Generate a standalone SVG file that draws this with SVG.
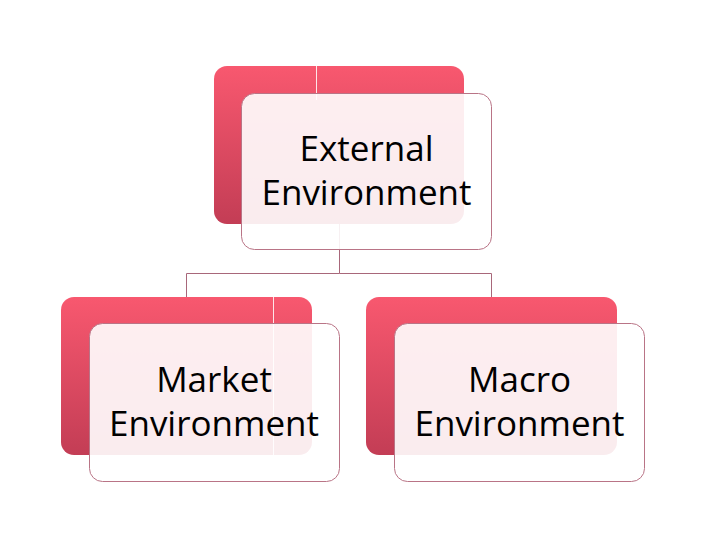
<svg xmlns="http://www.w3.org/2000/svg" width="720" height="540" viewBox="0 0 720 540">
<defs>
<linearGradient id="red" x1="0" y1="0" x2="0" y2="1">
<stop offset="0" stop-color="#f8586f"/>
<stop offset="1" stop-color="#c33d55"/>
</linearGradient>
<style>
.back{fill:url(#red);}
.front{fill:#ffffff;fill-opacity:0.9;stroke:#b97486;stroke-width:1;}
.conn{fill:none;stroke:#a8677a;stroke-width:1;}
.sheen{stroke:#ffffff;stroke-opacity:0.85;stroke-width:1;}
.lbl{font-family:"Open Sans","DejaVu Sans",sans-serif;font-size:35px;fill:#000000;text-anchor:middle;}
</style>
</defs>
<rect width="720" height="540" fill="#ffffff"/>
<g id="back-shapes">
<rect class="back" x="214" y="66" width="250" height="158" rx="13"/>
<rect class="back" x="61" y="297" width="251" height="158" rx="13"/>
<rect class="back" x="366" y="297" width="251" height="158" rx="13"/>
<line class="sheen" x1="316.5" y1="66" x2="316.5" y2="100"/>
<line class="sheen" x1="273.5" y1="297" x2="273.5" y2="455"/>
</g>
<g id="connectors">
<polyline class="conn" points="339.5,224 339.5,273.5 186.5,273.5 186.5,297"/>
<polyline class="conn" points="339.5,273.5 491.5,273.5 491.5,297"/>
</g>
<g id="node-external">
<rect class="front" x="241.5" y="93.5" width="250" height="156" rx="13"/>
<text class="lbl" x="366.5" y="161">External</text>
<text class="lbl" x="366.5" y="205">Environment</text>
</g>
<g id="node-market">
<rect class="front" x="89.5" y="323.5" width="250" height="158" rx="13"/>
<text class="lbl" x="214" y="392">Market</text>
<text class="lbl" x="214" y="436">Environment</text>
</g>
<g id="node-macro">
<rect class="front" x="394.5" y="323.5" width="250" height="158" rx="13"/>
<text class="lbl" x="519.5" y="392">Macro</text>
<text class="lbl" x="519.5" y="436">Environment</text>
</g>
</svg>
